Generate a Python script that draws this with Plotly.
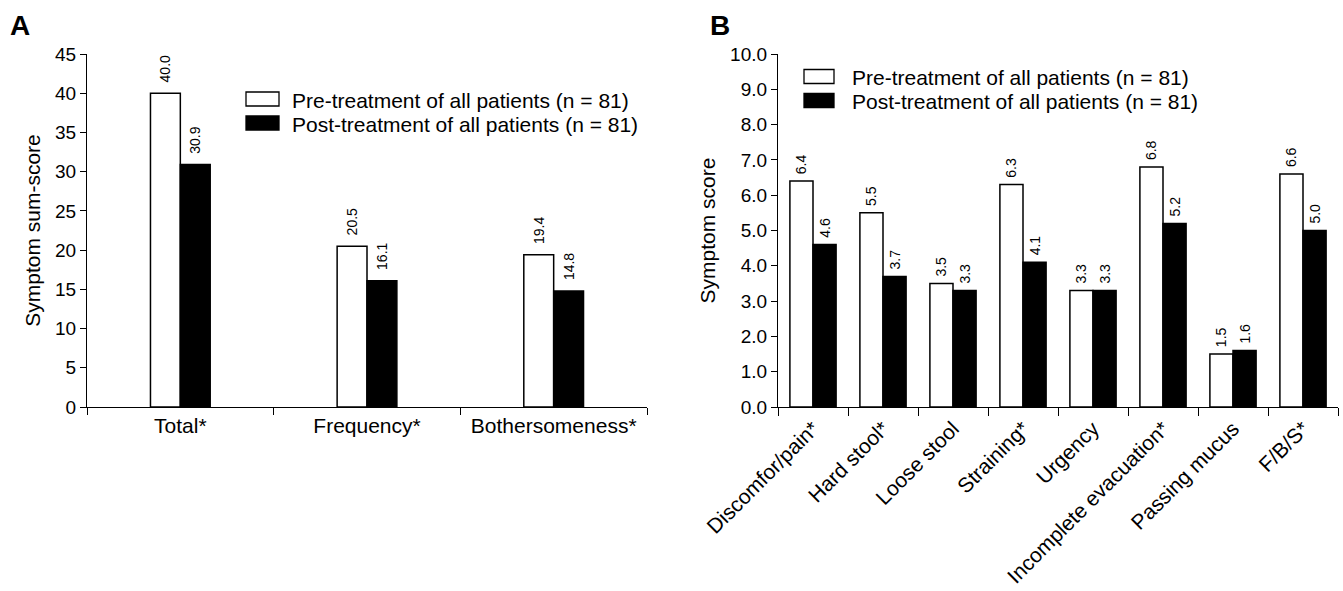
import plotly.graph_objects as go

# ---- data ----
cats_a = ["Total*", "Frequency*", "Bothersomeness*"]
pre_a = [40.0, 20.5, 19.4]
post_a = [30.9, 16.1, 14.8]

cats_b = ["Discomfor/pain*", "Hard stool*", "Loose stool", "Straining*", "Urgency",
          "Incomplete evacuation*", "Passing mucus", "F/B/S*"]
pre_b = [6.4, 5.5, 3.5, 6.3, 3.3, 6.8, 1.5, 6.6]
post_b = [4.6, 3.7, 3.3, 4.1, 3.3, 5.2, 1.6, 5.0]

series_names = ["Pre-treatment of all patients (n = 81)",
                "Post-treatment of all patients (n = 81)"]
series_colors = ["white", "black"]

W, H = 1343, 591
FONT = "Liberation Sans, Arial, Helvetica, sans-serif"

fig = go.Figure()

wa = 0.16
wb = 0.33

def add_bars(cats, series, w, xa, ya, pad):
    for i, vals in enumerate(series):
        fig.add_trace(go.Bar(
            x=cats, y=vals, name=series_names[i], width=w, offset=-w if i == 0 else 0,
            marker=dict(color=series_colors[i], line=dict(color="black", width=1.5)),
            text=[pad + f"{v:.1f}" for v in vals], textposition="outside", textangle=-90,
            textfont=dict(family=FONT, size=14, color="black"),
            constraintext="none", cliponaxis=False, showlegend=False,
            xaxis=xa, yaxis=ya))

add_bars(cats_a, [pre_a, post_a], wa, "x", "y", "\u00a0\u00a0")
add_bars(cats_b, [pre_b, post_b], wb, "x2", "y2", "\u00a0")

ax_common = dict(showline=True, linecolor="black", linewidth=1.3, showgrid=False,
                 zeroline=False, ticks="outside", tickcolor="black", tickwidth=1.3,
                 automargin=False)
xfont = dict(family=FONT, size=21, color="black")
yfont = dict(family=FONT, size=19, color="black")

# ---- legends (swatch + label), one per panel ----
shapes, annotations = [], []
legend_specs = [  # (swatch left px, swatch right px, text left px, first row centre px)
    (246, 279, 290, 99),
    (804, 834, 850, 76.5),
]
ROW = 24
for sx0, sx1, tx, y0 in legend_specs:
    for i, name in enumerate(series_names):
        yc = y0 + i * ROW
        shapes.append(dict(type="rect", xref="paper", yref="paper",
                           x0=sx0 / W, x1=sx1 / W, y0=1 - (yc + 7) / H, y1=1 - (yc - 7) / H,
                           fillcolor=series_colors[i], line=dict(color="black", width=1.3)))
        annotations.append(dict(text=name, x=tx / W, y=1 - (yc + 1) / H, xref="paper",
                                yref="paper", xanchor="left", yanchor="middle",
                                showarrow=False, font=dict(family=FONT, size=21)))

for lbl, px in [("A", 8), ("B", 708)]:
    annotations.append(dict(text=f"<b>{lbl}</b>", x=px / W, y=1 - 8 / H, xref="paper",
                            yref="paper", xanchor="left", yanchor="top", showarrow=False,
                            font=dict(family=FONT, size=28)))

fig.update_layout(
    width=W, height=H, margin=dict(l=0, r=0, t=0, b=0, autoexpand=False),
    paper_bgcolor="white", plot_bgcolor="white", showlegend=False,
    barmode="overlay", font=dict(family=FONT, color="black"),
    xaxis=dict(domain=[87 / W, 647 / W], anchor="y", tickson="boundaries",
               ticklen=7, tickfont=xfont, **ax_common),
    yaxis=dict(domain=[1 - 407 / H, 1 - 54 / H], anchor="x", range=[0, 45], dtick=5,
               ticklen=6, tickfont=yfont,
               title=dict(text="Symptom sum-score", font=dict(family=FONT, size=21), standoff=8),
               **ax_common),
    xaxis2=dict(domain=[778 / W, 1338 / W], anchor="y2", tickson="boundaries",
                ticklen=8, tickangle=-45, tickfont=xfont, **ax_common),
    yaxis2=dict(domain=[1 - 407 / H, 1 - 54 / H], anchor="x2", range=[0, 10], dtick=1,
                tickformat=".1f", ticklen=6, tickfont=yfont,
                title=dict(text="Symptom score", font=dict(family=FONT, size=21), standoff=8),
                **ax_common),
    shapes=shapes,
    annotations=annotations,
)

fig.write_html("out.html")
